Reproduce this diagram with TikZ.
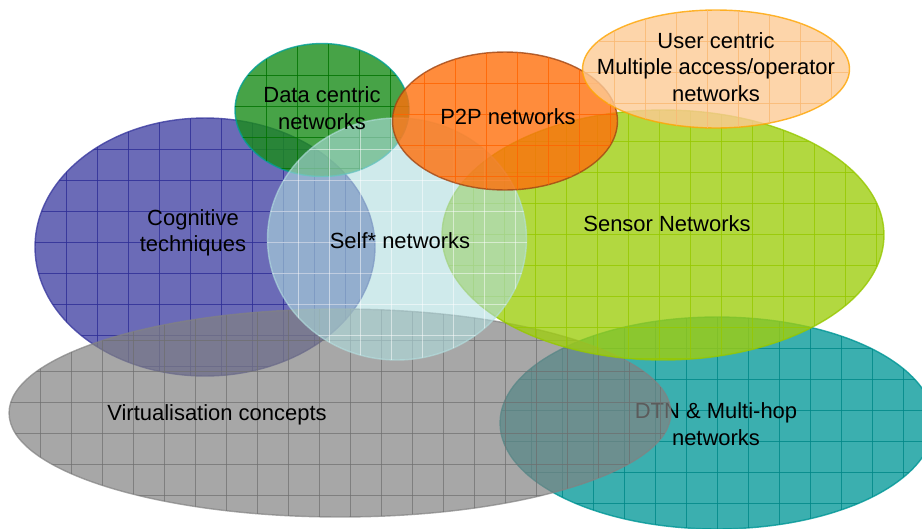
\documentclass[tikz,border=0pt]{standalone}
\usepackage{fontspec}
\setmainfont{Liberation Sans}
\usetikzlibrary{shapes.geometric}

\definecolor{cogfill}{RGB}{70,70,165}
\definecolor{coggrid}{RGB}{45,45,150}
\definecolor{cogline}{RGB}{60,60,160}
\definecolor{datafill}{RGB}{25,140,25}
\definecolor{datagrid}{RGB}{0,115,0}
\definecolor{dataline}{RGB}{0,160,150}
\definecolor{dtnfill}{RGB}{10,155,155}
\definecolor{dtngrid}{RGB}{0,135,135}
\definecolor{dtnline}{RGB}{0,150,150}
\definecolor{virtfill}{RGB}{130,130,130}
\definecolor{virtgrid}{RGB}{110,110,110}
\definecolor{sensfill}{RGB}{159,206,16}
\definecolor{sensgrid}{RGB}{150,200,0}
\definecolor{selffill}{RGB}{175,220,222}
\definecolor{selfline}{RGB}{180,225,225}
\definecolor{ptpfill}{RGB}{255,111,11}
\definecolor{ptpgrid}{RGB}{255,100,0}
\definecolor{ptpline}{RGB}{160,70,20}
\definecolor{userfill}{RGB}{253,202,149}
\definecolor{usergrid}{RGB}{250,185,115}
\definecolor{userline}{RGB}{255,165,0}

% grid of 31px squares inside an ellipse: centre x, centre y, radii, colour, opacity
\newcommand{\meshfill}[6]{%
  \begin{scope}[opacity=#6]
    \clip (#1,#2) ellipse [x radius=#3, y radius=#4];
    \foreach \k in {1,...,22} {
      \draw[#5, line width=0.5pt] ({#1-#3+\k*31},{#2-#4}) -- ++(0,{2*#4});
      \draw[#5, line width=0.5pt] ({#1-#3},{#2-#4+\k*31}) -- ++({2*#3},0);
    }
  \end{scope}}

\begin{document}
\begin{tikzpicture}[x=0.02cm, y=-0.02cm,
  blob/.style={ellipse, inner sep=0pt, line width=0.8pt, opacity=0.8},
  lbl/.style={align=center, text=black, font=\fontsize{12.5}{15}\selectfont}]
  \useasboundingbox (0,0) rectangle (922,528);
  \clip (0,0) rectangle (922,528);

  % the ellipses, back to front
  \node (cog)   [blob, fill=cogfill, draw=cogline,
                minimum width=6.8cm, minimum height=5.16cm] at (205,247) {};
  \meshfill{205}{247}{170}{129}{coggrid}{0.8}
  \node (data)  [blob, fill=datafill, draw=dataline,
                minimum width=3.48cm, minimum height=2.66cm] at (322,110) {};
  \meshfill{322}{110}{87}{66}{datagrid}{0.8}
  \node (dtn)   [blob, fill=dtnfill, draw=dtnline,
                minimum width=8.68cm, minimum height=4.24cm] at (717,423) {};
  \meshfill{717}{423}{217}{106}{dtngrid}{0.8}
  \node (dtnlbl) [lbl] at (716,424) {DTN \& Multi-hop\\networks};
  \node (virt)  [blob, fill=virtfill, draw=virtfill, opacity=0.7,
                minimum width=13.24cm, minimum height=4.16cm] at (340,413) {};
  \meshfill{340}{413}{331}{104}{virtgrid}{0.7}
  \node (sens)  [blob, fill=sensfill, draw=sensgrid,
                minimum width=8.84cm, minimum height=5cm] at (663,235) {};
  \meshfill{663}{235}{221}{125}{sensgrid}{0.8}
  \node (self)  [blob, fill=selffill, draw=selfline, opacity=0.6,
                minimum width=5.18cm, minimum height=4.84cm] at (397,239) {};
  \meshfill{397}{239}{130}{121}{white}{0.5}
  \node (ptp)   [blob, fill=ptpfill, draw=ptpline,
                minimum width=4.5cm, minimum height=2.76cm] at (505,121) {};
  \meshfill{505}{121}{112}{69}{ptpgrid}{0.8}
  \node (user)  [blob, fill=userfill, draw=userline,
                minimum width=5.34cm, minimum height=2.36cm] at (716,69) {};
  \meshfill{716}{69}{133}{59}{usergrid}{0.8}

  % labels
  \node (coglbl)  [lbl] at (193,233) {Cognitive\\techniques};
  \node (datalbl) [lbl] at (322,108) {Data centric\\networks};
  \node (ptplbl)  [lbl] at (508,117) {P2P networks};
  \node (userlbl) [lbl] at (716,67)  {User centric\\Multiple access/operator\\networks};
  \node (selflbl) [lbl] at (400,241) {Self* networks};
  \node (senslbl) [lbl] at (667,224) {Sensor Networks};
  \node (virtlbl) [lbl] at (217,415) {Virtualisation concepts};
\end{tikzpicture}
\end{document}
